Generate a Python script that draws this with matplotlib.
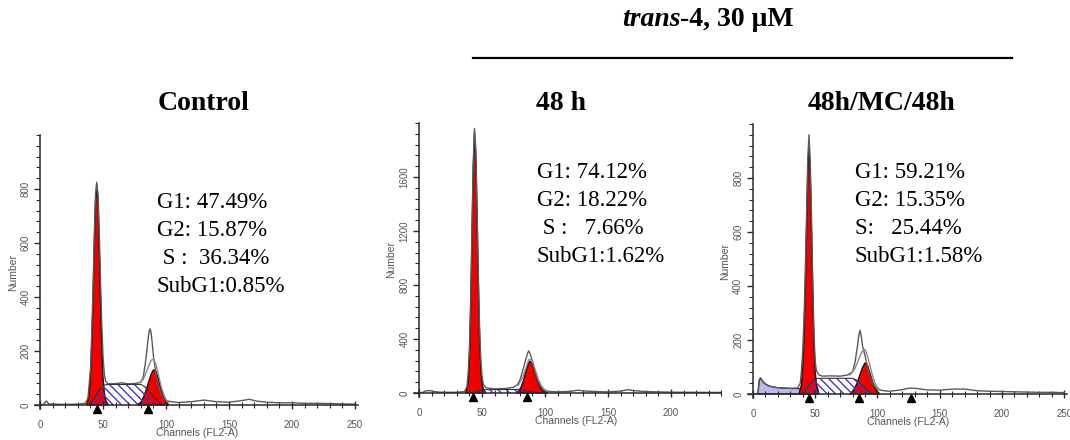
import matplotlib
matplotlib.use("Agg")
import matplotlib.pyplot as plt
from matplotlib import transforms
from matplotlib.lines import Line2D
from matplotlib.ticker import MultipleLocator

plt.rcParams['hatch.linewidth'] = 1.0

# histogram values, as (channel, count)
ctrl_raw = [(0, 0), (3, 3), (5, 15), (7, 4), (12, 3), (20, 2), (30, 3), (36, 6), (38, 25), (40, 130),
            (41, 260), (42, 420), (43, 620), (44, 780), (45, 825), (46, 780), (47, 640), (48, 460),
            (49, 300), (50, 180), (51, 115), (52, 88), (54, 78), (60, 79), (65, 82), (70, 78), (76, 80),
            (80, 84), (82, 105), (84, 170), (86, 255), (87, 282), (88, 272), (89, 230), (90, 180),
            (92, 115), (94, 70), (96, 42), (98, 26), (100, 16), (104, 12), (110, 9), (120, 12), (130, 18),
            (140, 12), (150, 10), (160, 16), (166, 21), (172, 14), (180, 10), (190, 8), (200, 8),
            (210, 6), (220, 6), (230, 5), (240, 4), (250, 3)]
ctrl_fit = [(78, 80), (82, 95), (85, 130), (88, 165), (90, 170), (92, 150), (94, 110), (96, 70),
            (98, 40), (100, 20), (102, 10)]
ctrl_g1 = [(37, 0), (39, 40), (40, 110), (41, 220), (42, 390), (43, 590), (44, 750), (45, 815), (46, 760),
           (47, 590), (48, 390), (49, 210), (50, 100), (51, 45), (52, 18), (54, 0)]
ctrl_g2 = [(77, 0), (80, 10), (82, 28), (84, 52), (86, 82), (88, 112), (90, 130), (92, 124), (94, 96),
           (96, 62), (98, 32), (100, 12), (102, 0)]
ctrl_s = [(39, 0), (42, 18), (45, 40), (48, 62), (51, 74), (55, 76), (80, 76), (83, 68), (86, 54),
          (89, 36), (92, 20), (95, 8), (98, 0)]
ctrl_marks = [45, 86]
ctrl_stats = ["G1: 47.49%", "G2: 15.87%", " S :  36.34%", "SubG1:0.85%"]

h48_raw = [(0, 0), (3, 5), (5, 14), (8, 18), (11, 12), (15, 7), (20, 5), (30, 5), (36, 10), (38, 45),
           (39, 150), (40, 330), (41, 700), (42, 1200), (43, 1700), (44, 1960), (45, 1820), (46, 1400),
           (47, 900), (48, 500), (49, 250), (50, 120), (51, 65), (53, 38), (60, 30), (70, 34), (75, 42),
           (78, 60), (80, 95), (82, 155), (84, 225), (86, 290), (87, 312), (88, 295), (90, 235),
           (92, 165), (94, 100), (96, 58), (98, 30), (100, 16), (105, 10), (110, 8), (120, 12),
           (126, 20), (132, 14), (140, 10), (150, 8), (160, 14), (166, 24), (172, 16), (180, 10),
           (190, 8), (200, 6), (210, 5), (220, 5), (230, 4), (240, 4)]
h48_fit = [(79, 60), (82, 110), (85, 190), (87, 245), (89, 250), (91, 205), (93, 150), (95, 95),
           (97, 55), (100, 20)]
h48_g1 = [(37, 0), (39, 70), (40, 260), (41, 640), (42, 1150), (43, 1650), (44, 1930), (45, 1760),
          (46, 1340), (47, 840), (48, 440), (49, 190), (50, 75), (51, 28), (53, 0)]
h48_g2 = [(77, 0), (79, 14), (81, 42), (83, 95), (85, 165), (87, 222), (88, 236), (90, 212), (92, 152),
          (94, 92), (96, 46), (98, 18), (100, 6), (102, 0)]
h48_s = [(42, 0), (47, 15), (52, 24), (78, 26), (84, 16), (90, 6), (95, 0)]
h48_marks = [43, 86]
h48_stats = ["G1: 74.12%", "G2: 18.22%", " S :   7.66%", "SubG1:1.62%"]

mc_sub = [(4, 0), (5, 48), (6, 58), (7, 52), (9, 40), (12, 31), (16, 26), (20, 23), (26, 21), (32, 20),
          (36, 20), (40, 16), (44, 8), (48, 0)]
mc_raw = [(0, 0), (4, 2), (5, 52), (6, 60), (8, 46), (10, 37), (13, 30), (16, 26), (20, 23), (30, 21),
          (36, 22), (38, 40), (39, 90), (40, 160), (41, 280), (42, 450), (43, 660), (44, 870), (45, 960),
          (46, 860), (47, 660), (48, 420), (49, 220), (50, 120), (51, 85), (53, 70), (56, 66), (62, 67),
          (70, 66), (76, 70), (80, 82), (82, 118), (84, 180), (85, 218), (86, 236), (87, 212), (88, 178),
          (90, 142), (92, 100), (94, 66), (96, 42), (98, 27), (100, 18), (105, 12), (110, 10), (120, 16),
          (126, 22), (132, 20), (140, 15), (150, 14), (160, 18), (170, 18), (180, 12), (190, 10),
          (200, 9), (210, 8), (220, 7), (230, 6), (240, 6), (250, 5)]
mc_fit = [(78, 70), (82, 95), (85, 130), (88, 160), (90, 165), (92, 140), (94, 105), (96, 68), (98, 40),
          (100, 24), (102, 14)]
mc_g1 = [(37, 0), (39, 35), (40, 110), (41, 210), (42, 400), (43, 610), (44, 820), (45, 930), (46, 820),
         (47, 610), (48, 380), (49, 185), (50, 80), (51, 35), (53, 0)]
mc_g2 = [(78, 0), (80, 10), (82, 24), (84, 44), (86, 72), (88, 98), (90, 115), (92, 106), (94, 76),
         (96, 46), (98, 20), (100, 8), (102, 0)]
mc_s = [(39, 0), (42, 14), (45, 32), (48, 48), (51, 57), (55, 58), (80, 58), (83, 52), (86, 40),
        (89, 26), (92, 14), (95, 5), (98, 0)]
mc_marks = [45, 85, 127]
mc_stats = ["G1: 59.21%", "G2: 15.35%", "S:   25.44%", "SubG1:1.58%"]

titles = ["Control", "48 h", "48h/MC/48h"]

W, H = 1070, 440
fig = plt.figure(figsize=(W / 100, H / 100), dpi=100)

RED = '#f20000'
HATCH = '#3c3cc8'
AXC = '#2a2a2a'
TICKC = '#555555'


def xy(pts):
    return [p[0] for p in pts], [p[1] for p in pts]


def draw_panel(rect, raw, fit, g1, g2, s, marks, xmax, ymax, ymajor, yminor, xticks, sub=None):
    ax = fig.add_axes(rect)
    ax.patch.set_alpha(0)
    if sub is not None:
        x, y = xy(sub)
        ax.fill(x, y, facecolor='#b9b9f2', edgecolor='#222222', lw=0.9)
    x, y = xy(raw)
    ax.plot(x, y, color='#5a5a5a', lw=1.0)
    x, y = xy(fit)
    ax.plot(x, y, color='#8a8a8a', lw=1.0)
    for pk in (g1, g2):
        x, y = xy(pk)
        ax.fill(x, y, facecolor=RED, edgecolor='#111111', lw=1.0)
    x, y = xy(s)
    ax.fill(x, y, facecolor='none', edgecolor=HATCH, hatch='\\\\\\\\', lw=0)
    ax.plot(x, y, color='#333333', lw=0.8)

    off = transforms.offset_copy(ax.transData, fig=fig, x=0, y=-4, units='dots')
    ax.plot(marks, [0] * len(marks), ls='none', marker='^', ms=6, color='black',
            transform=off, clip_on=False)

    ax.set_xlim(-4, xmax)
    ax.set_ylim(-ymax * 0.015, ymax)
    for sp in ('top', 'right'):
        ax.spines[sp].set_visible(False)
    ax.spines['left'].set_position(('data', 0))
    ax.spines['bottom'].set_position(('data', 0))
    for sp in ('left', 'bottom'):
        ax.spines[sp].set_color(AXC)
        ax.spines[sp].set_linewidth(1.1)

    ax.set_xticks(xticks)
    ax.xaxis.set_minor_locator(MultipleLocator(10))
    ax.set_yticks(ymajor)
    ax.yaxis.set_minor_locator(MultipleLocator(yminor))
    ax.tick_params(axis='x', which='major', direction='inout', length=6, width=1, color=AXC,
                   labelsize=7, labelcolor=TICKC, pad=8)
    ax.tick_params(axis='x', which='minor', direction='inout', length=4, width=0.8, color=AXC)
    ax.tick_params(axis='y', which='major', direction='out', length=4, width=1, color=AXC,
                   labelsize=7, labelcolor=TICKC, labelrotation=90, pad=3)
    ax.tick_params(axis='y', which='minor', direction='out', length=3, width=0.8, color=AXC)
    for lab in ax.get_yticklabels():
        lab.set_va('center')
    for lab in ax.get_xticklabels() + ax.get_yticklabels():
        lab.set_fontfamily('Liberation Sans')

    ax.set_xlabel("Channels (FL2-A)", fontsize=7.5, color=TICKC, family='Liberation Sans')
    ax.set_ylabel("Number", fontsize=7.5, color=TICKC, family='Liberation Sans')
    x0, x1 = ax.get_xlim()
    ax.xaxis.set_label_coords((125 - x0) / (x1 - x0), -0.071)
    return ax


ax1 = draw_panel([35 / W, 31 / H, 322.6 / W, 274 / H], ctrl_raw, ctrl_fit, ctrl_g1, ctrl_g2, ctrl_s,
                 ctrl_marks, 252, 1000, [0, 200, 400, 600, 800], 40, [0, 50, 100, 150, 200, 250])
ax1.yaxis.set_label_coords(-0.051, 0.5)
ax2 = draw_panel([414 / W, 43 / H, 307.4 / W, 274 / H], h48_raw, h48_fit, h48_g1, h48_g2, h48_s,
                 h48_marks, 240, 2000, [0, 400, 800, 1200, 1600], 80, [0, 50, 100, 150, 200])
ax2.yaxis.set_label_coords(-0.057, 0.5)
ax3 = draw_panel([748 / W, 42 / H, 318.7 / W, 274 / H], mc_raw, mc_fit, mc_g1, mc_g2, mc_s,
                 mc_marks, 252, 1000, [0, 200, 400, 600, 800], 40, [0, 50, 100, 150, 200, 250],
                 sub=mc_sub)
ax3.yaxis.set_label_coords(-0.055, 0.5)

# percentages
serif = 'Liberation Serif'
for stats, x_px, ys in [(ctrl_stats, 157, [202, 230, 258, 286]),
                        (h48_stats, 537, [172, 200, 228, 257]),
                        (mc_stats, 855, [172, 200, 228, 257])]:
    for line, y_px in zip(stats, ys):
        fig.text(x_px / W, 1 - y_px / H, line, family=serif, fontsize=16.5, va='center', ha='left')

# panel titles
for t, cx in zip(titles, [204, 561, 882]):
    fig.text(cx / W, 1 - 103 / H, t, family=serif, fontsize=20, fontweight='bold',
             ha='center', va='center')

# group header with italic "trans"
r = fig.canvas.get_renderer()
t1 = fig.text(0, 1 - 20 / H, "trans", family=serif, fontsize=20, fontweight='bold',
              fontstyle='italic', ha='left', va='center')
t2 = fig.text(0, 1 - 20 / H, "-4, 30 \u03bcM", family=serif, fontsize=20, fontweight='bold',
              ha='left', va='center')
w1 = t1.get_window_extent(r).width
w2 = t2.get_window_extent(r).width
xs = 708 - (w1 + w2) / 2
t1.set_x(xs / W)
t2.set_x((xs + w1) / W)
fig.add_artist(Line2D([473 / W, 1012 / W], [1 - 58 / H, 1 - 58 / H], transform=fig.transFigure,
                      color='black', lw=1.6))

fig.savefig("out.png", dpi=100)
